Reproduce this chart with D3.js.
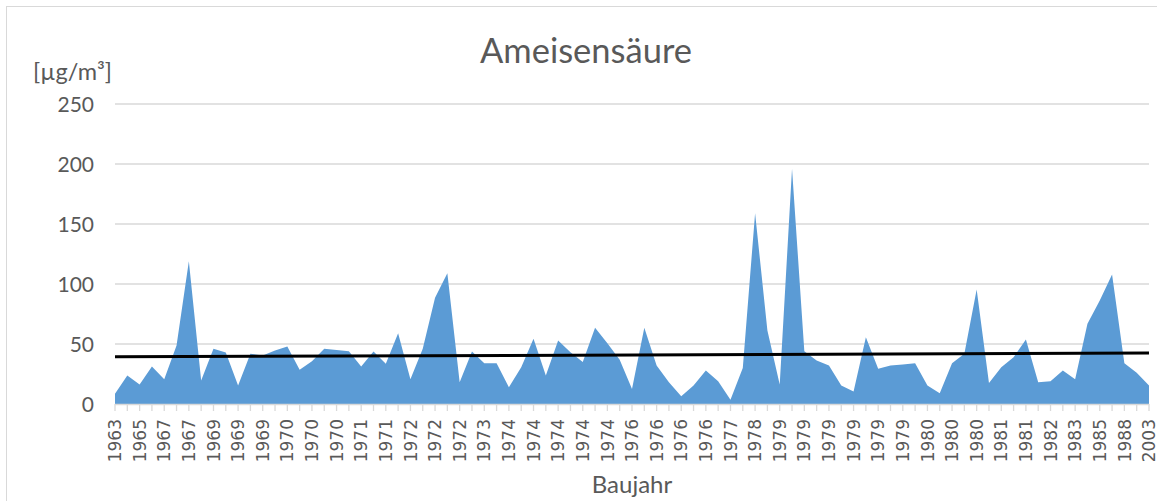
<!DOCTYPE html>
<html>
<head>
<meta charset="utf-8">
<script src="https://cdn.jsdelivr.net/npm/d3@7"></script>
<style>
  body { margin: 0; background: #fff; }
  svg { display: block; }
</style>
</head>
<body>
<svg id="chart" width="1157" height="501"></svg>
<script>
// Ameisensäure per sample, ordered by Baujahr (only every 2nd category is labelled)
var values = [
  8.5, 23.7, 16.2, 31.2, 20.7, 48.7, 119, 19.6, 46, 43,
  15.4, 41.8, 40.4, 44.6, 47.9, 28.5, 35.7, 46, 45.1, 44,
  31.2, 43.7, 33.5, 59, 20.7, 46, 88.5, 109, 18.2, 43.7,
  34, 34, 14, 30.7, 54.3, 23.7, 52.9, 43.2, 34.9, 63.5,
  50.7, 36.8, 12.6, 63.5, 32, 18.2, 6.5, 15.4, 27.9, 19,
  3.5, 30.1, 159, 61.2, 16.2, 196, 44, 36.2, 32, 15.4,
  10.4, 55.7, 29.3, 32, 32.9, 34, 15.4, 9, 34, 41.8,
  95.4, 17.4, 30.7, 39, 53.7, 18.2, 19, 27.9, 20.7, 66.8,
  86.2, 108, 34, 26, 15.4
];
var tickLabels = [
  "1963", "1965", "1967", "1967", "1969", "1969", "1969", "1970", "1970", "1970",
  "1971", "1971", "1972", "1972", "1972", "1973", "1974", "1974", "1974", "1974",
  "1974", "1976", "1976", "1976", "1976", "1977", "1978", "1979", "1979", "1979",
  "1979", "1979", "1979", "1980", "1980", "1980", "1981", "1981", "1982", "1983",
  "1985", "1988", "2003"
];
var yTicks = [0, 50, 100, 150, 200, 250];

var svg = d3.select("#chart");
var textCol = "#595959";

// chart border
svg.append("rect")
    .attr("x", 6.5).attr("y", 6.5)
    .attr("width", 1170).attr("height", 520)
    .attr("fill", "none")
    .attr("stroke", "#d9d9d9")
    .attr("stroke-width", 1);

var x = d3.scaleLinear().domain([0, values.length - 1]).range([115, 1149]);
var y = d3.scaleLinear().domain([0, 250]).range([404, 104]);

// gridlines
svg.append("g").selectAll("line")
    .data(yTicks.slice(1))
    .enter().append("line")
    .attr("x1", 115).attr("x2", 1149)
    .attr("y1", function(d) { return y(d); })
    .attr("y2", function(d) { return y(d); })
    .attr("stroke", "#d9d9d9")
    .attr("stroke-width", 1.3);

// y labels
svg.append("g").selectAll("text")
    .data(yTicks)
    .enter().append("text")
    .attr("x", 94)
    .attr("y", function(d) { return y(d); })
    .attr("dy", "0.36em")
    .attr("text-anchor", "end")
    .attr("font-family", "Lato")
    .attr("font-size", 21)
    .attr("fill", textCol)
    .text(function(d) { return d; });

// area
var area = d3.area()
    .x(function(d, i) { return x(i); })
    .y0(y(0))
    .y1(function(d) { return y(d); });

svg.append("path")
    .datum(values)
    .attr("d", area)
    .attr("fill", "#5b9bd5");

// x axis line + small ticks
svg.append("line")
    .attr("x1", 115).attr("x2", 1149)
    .attr("y1", 404.5).attr("y2", 404.5)
    .attr("stroke", "#d9d9d9")
    .attr("stroke-width", 1.3);

svg.append("g").selectAll("line")
    .data(d3.range(values.length))
    .enter().append("line")
    .attr("x1", function(i) { return x(i); })
    .attr("x2", function(i) { return x(i); })
    .attr("y1", 404).attr("y2", 411)
    .attr("stroke", "#d9d9d9")
    .attr("stroke-width", 1.3);

// x labels, rotated, every second category
svg.append("g").selectAll("text")
    .data(tickLabels)
    .enter().append("text")
    .attr("transform", function(d, i) {
        return "translate(" + x(i * 2) + ",419) rotate(-90)";
    })
    .attr("dy", "0.36em")
    .attr("text-anchor", "end")
    .attr("font-family", "DejaVu Sans")
    .attr("font-size", 17)
    .attr("fill", textCol)
    .text(function(d) { return d; });

// linear trendline (least squares)
var n = values.length;
var mx = d3.mean(d3.range(n)), my = d3.mean(values);
var sxy = d3.sum(values, function(v, i) { return (i - mx) * (v - my); });
var sxx = d3.sum(d3.range(n), function(i) { return (i - mx) * (i - mx); });
var slope = sxy / sxx, icpt = my - slope * mx;

svg.append("line")
    .attr("x1", x(0)).attr("x2", x(n - 1))
    .attr("y1", y(icpt))
    .attr("y2", y(icpt + slope * (n - 1)))
    .attr("stroke", "#000")
    .attr("stroke-width", 3);

// titles
svg.append("text")
    .attr("x", 586).attr("y", 63)
    .attr("text-anchor", "middle")
    .attr("font-family", "Lato")
    .attr("font-size", 34.5)
    .attr("fill", textCol)
    .text("Ameisensäure");

svg.append("text")
    .attr("x", 33).attr("y", 80)
    .attr("font-family", "Lato")
    .attr("font-size", 23.5)
    .attr("fill", textCol)
    .text("[µg/m³]");

svg.append("text")
    .attr("x", 632).attr("y", 493)
    .attr("text-anchor", "middle")
    .attr("font-family", "Lato")
    .attr("font-size", 24)
    .attr("fill", textCol)
    .text("Baujahr");
</script>
</body>
</html>
